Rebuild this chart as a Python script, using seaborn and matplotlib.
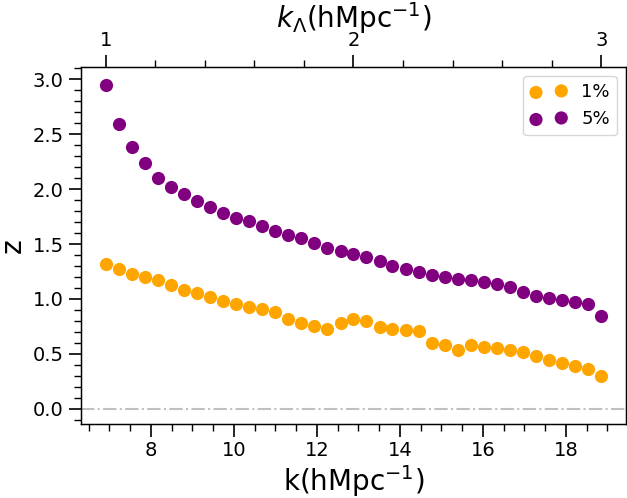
import matplotlib
matplotlib.use("Agg")
import matplotlib.pyplot as plt
import seaborn as sns
import pandas as pd
from matplotlib.ticker import MultipleLocator

sns.set_style("ticks", {"axes.edgecolor": "black", "text.color": "black",
                        "axes.labelcolor": "black", "xtick.color": "black",
                        "ytick.color": "black"})
plt.rcParams["font.family"] = ["DejaVu Sans"]

# k values (hMpc^-1)
k = [6.91, 7.23, 7.54, 7.85, 8.17, 8.48, 8.80, 9.11, 9.42, 9.74,
     10.05, 10.37, 10.68, 11.00, 11.31, 11.62, 11.94, 12.25, 12.57, 12.88,
     13.19, 13.51, 13.82, 14.14, 14.45, 14.77, 15.08, 15.39, 15.71, 16.02,
     16.34, 16.65, 16.96, 17.28, 17.59, 17.91, 18.22, 18.54, 18.85]

z_1pct = [1.32, 1.27, 1.23, 1.20, 1.17, 1.13, 1.08, 1.05, 1.02, 0.98,
          0.95, 0.93, 0.91, 0.88, 0.82, 0.78, 0.75, 0.73, 0.78, 0.82,
          0.80, 0.745, 0.73, 0.72, 0.71, 0.60, 0.58, 0.54, 0.58, 0.565,
          0.555, 0.54, 0.52, 0.485, 0.447, 0.416, 0.39, 0.365, 0.30]

z_5pct = [2.95, 2.595, 2.38, 2.236, 2.10, 2.017, 1.951, 1.893, 1.835, 1.78,
          1.741, 1.711, 1.665, 1.62, 1.586, 1.553, 1.51, 1.465, 1.437, 1.41,
          1.38, 1.343, 1.304, 1.27, 1.246, 1.22, 1.203, 1.182, 1.17, 1.158,
          1.14, 1.109, 1.06, 1.024, 1.006, 0.987, 0.969, 0.951, 0.845]

# top axis range k_Lambda
k_lambda_range = [1, 3]
top_ticks = [1, 2, 3]

df = pd.DataFrame({"k": k, "1%": z_1pct, "5%": z_5pct})

fig = plt.figure(figsize=(6.27, 4.98), dpi=100)
ax = fig.add_axes([0.129, 0.1486, 0.8694, 0.7169])

ax.axhline(0, color="#c0c0c0", linestyle="-.", linewidth=1.5, zorder=1)
sns.scatterplot(data=df, x="k", y="1%", color="orange", s=90, linewidth=0,
                label="1%", ax=ax, zorder=3)
sns.scatterplot(data=df, x="k", y="5%", color="purple", s=90, linewidth=0,
                label="5%", ax=ax, zorder=3)

ax.set_ylim(-0.137, 3.11)
ax.set_xlabel("k(hMpc$^{-1}$)", fontsize=20, labelpad=2)
ax.set_ylabel("z", fontsize=20)
ax.xaxis.set_major_locator(MultipleLocator(2))
ax.xaxis.set_minor_locator(MultipleLocator(0.5))
ax.yaxis.set_major_locator(MultipleLocator(0.5))
ax.yaxis.set_minor_locator(MultipleLocator(0.1))
ax.tick_params(which="major", length=9, width=1.2, labelsize=14)
ax.tick_params(which="minor", length=5, width=1)
for sp in ax.spines.values():
    sp.set_color("black")
    sp.set_linewidth(1)

ax.legend(loc="upper right", scatterpoints=2, fontsize=13, frameon=True,
          edgecolor="#cccccc")

top = ax.twiny()
pad = 0.05 * (k_lambda_range[1] - k_lambda_range[0])
top.set_xlim(k_lambda_range[0] - pad, k_lambda_range[1] + pad)
top.set_xticks(top_ticks)
top.xaxis.set_minor_locator(MultipleLocator(0.2))
top.set_xlabel(r"$k_{\Lambda}$(hMpc$^{-1}$)", fontsize=20, labelpad=2)
top.tick_params(which="major", length=9, width=1.2, labelsize=14)
top.tick_params(which="minor", length=5, width=1)

fig.savefig("out.png", dpi=100)
plt.close(fig)
